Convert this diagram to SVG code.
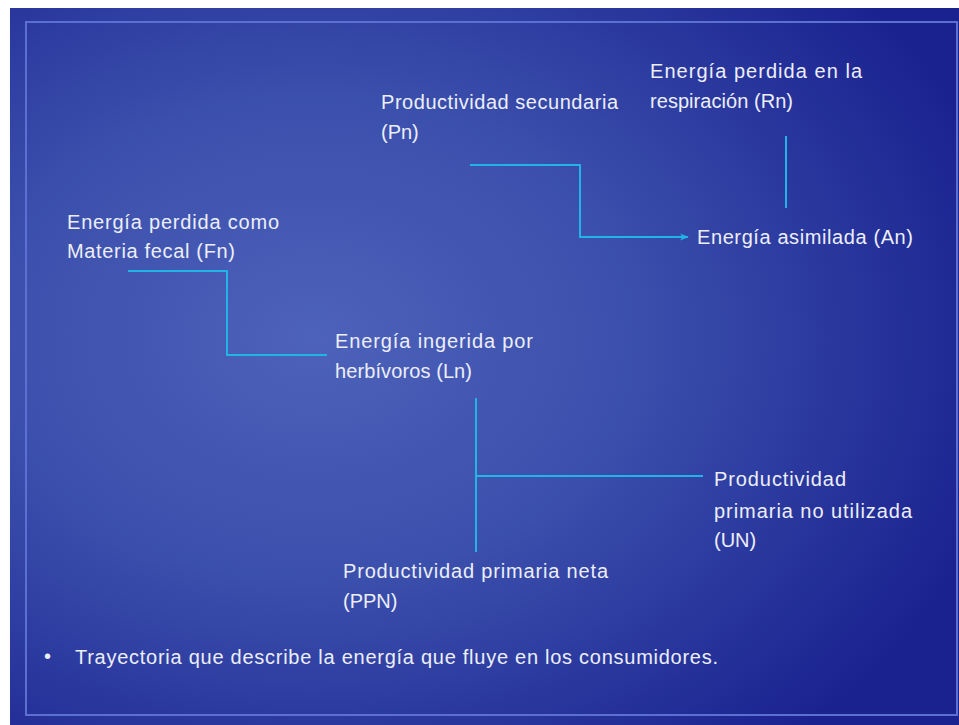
<svg xmlns="http://www.w3.org/2000/svg" width="959" height="725" viewBox="0 0 959 725">
  <defs>
    <radialGradient id="bg" cx="0.32" cy="0.46" r="0.75">
      <stop offset="0" stop-color="#4d62ba"/>
      <stop offset="0.45" stop-color="#3b4fac"/>
      <stop offset="1" stop-color="#1a2290"/>
    </radialGradient>
    <marker id="arrow" viewBox="0 0 10 10" refX="9" refY="5" markerWidth="9" markerHeight="9" markerUnits="userSpaceOnUse" orient="auto">
      <path d="M0,1 L10,5 L0,9 L3,5 Z" fill="#22b4e6"/>
    </marker>
    <style>
      .lbl { font-family: "Liberation Sans", Arial, sans-serif; font-size: 20px; fill: #eceef8; }
      .conn { fill: none; stroke: #22b4e6; stroke-width: 2; }
    </style>
  </defs>
  <rect x="0" y="0" width="959" height="725" fill="#ffffff"/>
  <rect x="10" y="8" width="949" height="717" fill="url(#bg)"/>
  <rect x="26" y="22" width="931" height="693" fill="none" stroke="#5c70d2" stroke-width="2"/>

  <g id="connectors">
    <path class="conn" d="M470,165 H580 V237 H688" marker-end="url(#arrow)"/>
    <path class="conn" d="M786,136 V208"/>
    <path class="conn" d="M128,271 H227 V355 H327"/>
    <path class="conn" d="M476,398 V552"/>
    <path class="conn" d="M476,476 H703"/>
  </g>

  <g id="node-rn">
    <text class="lbl" x="650" y="78" textLength="212" lengthAdjust="spacing">Energía perdida en la</text>
    <text class="lbl" x="650" y="108" textLength="143" lengthAdjust="spacing">respiración (Rn)</text>
  </g>
  <g id="node-pn">
    <text class="lbl" x="381" y="109" textLength="237" lengthAdjust="spacing">Productividad secundaria</text>
    <text class="lbl" x="381" y="139">(Pn)</text>
  </g>
  <g id="node-an">
    <text class="lbl" x="697" y="244" textLength="216" lengthAdjust="spacing">Energía asimilada (An)</text>
  </g>
  <g id="node-fn">
    <text class="lbl" x="67" y="229" textLength="212" lengthAdjust="spacing">Energía perdida como</text>
    <text class="lbl" x="67" y="258" textLength="168" lengthAdjust="spacing">Materia fecal (Fn)</text>
  </g>
  <g id="node-ln">
    <text class="lbl" x="335" y="348" textLength="198" lengthAdjust="spacing">Energía ingerida por</text>
    <text class="lbl" x="335" y="378" textLength="137" lengthAdjust="spacing">herbívoros (Ln)</text>
  </g>
  <g id="node-ppn">
    <text class="lbl" x="343" y="578" textLength="265" lengthAdjust="spacing">Productividad primaria neta</text>
    <text class="lbl" x="343" y="608">(PPN)</text>
  </g>
  <g id="node-un">
    <text class="lbl" x="714" y="486" textLength="132" lengthAdjust="spacing">Productividad</text>
    <text class="lbl" x="714" y="518" textLength="198" lengthAdjust="spacing">primaria no utilizada</text>
    <text class="lbl" x="714" y="547">(UN)</text>
  </g>
  <g id="caption">
    <text class="lbl" x="44" y="663" font-size="16">•</text>
    <text class="lbl" x="75" y="664" textLength="643" lengthAdjust="spacing">Trayectoria que describe la energía que fluye en los consumidores.</text>
  </g>
</svg>
